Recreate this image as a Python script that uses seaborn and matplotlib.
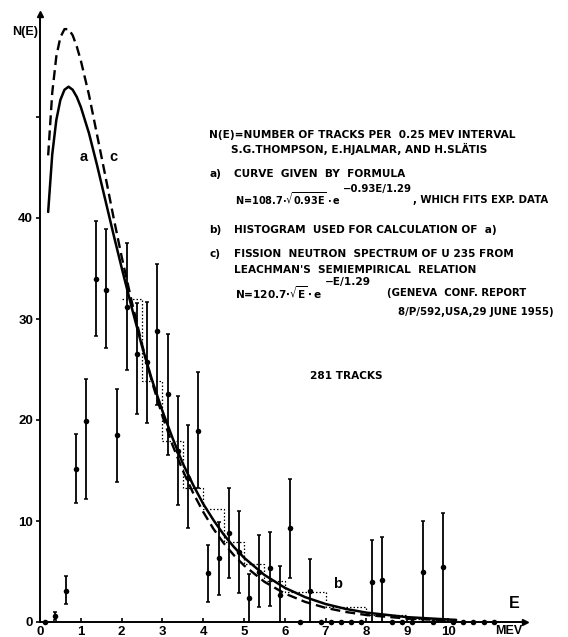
import matplotlib
matplotlib.use("Agg")
import matplotlib.pyplot as plt
import pandas as pd
import seaborn as sns

# measured track counts per 0.25 MeV interval (points with error bars)
energy = [0.125, 0.375, 0.625, 0.875, 1.125, 1.375, 1.625, 1.875, 2.125, 2.375,
          2.625, 2.875, 3.125, 3.375, 3.625, 3.875, 4.125, 4.375, 4.625, 4.875,
          5.125, 5.375, 5.625, 5.875, 6.125, 6.375, 6.625, 6.875, 7.125, 7.375,
          7.625, 7.875, 8.125, 8.375, 8.625, 8.875, 9.125, 9.375, 9.625, 9.875,
          10.125, 10.375, 10.625, 10.875, 11.125]
tracks = [0, 0.55, 3.1, 15.1, 19.9, 34.0, 32.9, 18.5, 31.2, 26.5,
          25.7, 28.8, 22.6, 16.9, 14.3, 18.9, 4.85, 6.3, 8.85, 6.9,
          2.4, 4.95, 5.3, 2.7, 9.35, 0, 3.1, 0, 0, 0,
          0, 0, 4.0, 4.2, 0, 0, 0, 5.0, 0, 5.4,
          0, 0, 0, 0, 0]
err_lo = [0, 0.15, 1.75, 11.8, 12.2, 28.3, 27.1, 13.9, 25.0, 20.6,
          19.7, 21.5, 16.5, 11.6, 9.3, 13.3, 1.95, 2.7, 4.35, 2.85,
          0, 1.45, 1.55, 0, 4.35, 0, 0, 0, 0, 0,
          0, 0, 0, 0, 0, 0, 0, 0, 0, 0,
          0, 0, 0, 0, 0]
err_hi = [0, 1.0, 4.6, 18.6, 24.1, 39.7, 38.9, 23.1, 37.5, 31.6,
          31.7, 35.4, 28.5, 22.4, 19.5, 24.8, 7.65, 9.95, 13.3, 10.95,
          4.8, 8.6, 8.95, 5.5, 14.2, 0, 6.2, 0, 0, 0,
          0, 0, 8.1, 8.45, 0, 0, 0, 10.0, 0, 10.8,
          0, 0, 0, 0, 0]

# b) histogram used for the fit
hist_edges = [2.0, 2.5, 3.0, 3.5, 4.0, 4.5, 5.0, 5.5, 6.0, 7.0, 8.0, 9.0, 10.0]
hist_levels = [32.0, 23.9, 17.9, 13.3, 11.2, 7.9, 5.7, 4.1, 2.95, 1.5, 0.7, 0.3]

# a) fitted curve and c) Leachman spectrum
curve_e = [0.2, 0.3, 0.4, 0.5, 0.6, 0.7, 0.8, 0.9, 1.0, 1.2, 1.4, 1.6, 1.8, 2.0,
           2.25, 2.5, 2.75, 3.0, 3.25, 3.5, 3.75, 4.0, 4.25, 4.5, 4.75, 5.0,
           5.5, 6.0, 6.5, 7.0, 7.5, 8.0, 9.0, 10.0, 10.2]
curve_a = [40.6, 46.3, 49.7, 51.7, 52.7, 53.0, 52.7, 52.0, 51.0, 48.4, 45.2,
           41.8, 38.4, 35.1, 31.1, 27.3, 23.9, 20.9, 18.2, 15.7, 13.6, 11.7,
           10.1, 8.67, 7.44, 6.37, 4.66, 3.39, 2.46, 1.78, 1.29, 0.93, 0.48,
           0.25, 0.21]
curve_c = [46.2, 52.4, 56.0, 57.9, 58.7, 58.7, 58.1, 57.0, 55.6, 52.2, 48.2,
           44.2, 40.1, 36.2, 31.7, 27.5, 23.7, 20.4, 17.5, 15.0, 12.8, 10.9,
           9.23, 7.82, 6.62, 5.60, 3.98, 2.82, 1.99, 1.40, 0.99, 0.69, 0.34,
           0.16, 0.14]

x_ticks = [0, 1, 2, 3, 4, 5, 6, 7, 8, 9, 10]
y_ticks = [0, 10, 20, 30, 40, 50]
y_labels = ["0", "10", "20", "30", "40", ""]

sns.set_style("ticks", {"axes.edgecolor": "black", "text.color": "black",
                        "xtick.color": "black", "ytick.color": "black",
                        "axes.labelcolor": "black"})
plt.rcParams["font.family"] = ["Liberation Sans", "DejaVu Sans"]
plt.rcParams["font.weight"] = "bold"
plt.rcParams["mathtext.fontset"] = "dejavusans"
plt.rcParams["mathtext.default"] = "bf"

W, H = 568, 637
fig = plt.figure(figsize=(W / 100, H / 100), dpi=100)
ax = fig.add_axes([40 / W, 15 / H, 485 / W, 608 / H])

pts = pd.DataFrame({"E": energy, "N": tracks, "lo": err_lo, "hi": err_hi})
bars = pts[pts["hi"] > pts["lo"]]
ax.errorbar(bars["E"], bars["N"], yerr=[bars["N"] - bars["lo"], bars["hi"] - bars["N"]],
            fmt="none", ecolor="black", elinewidth=1.3, capsize=1.6, capthick=1.1)
sns.scatterplot(data=pts, x="E", y="N", color="black", s=16, linewidth=0,
                clip_on=False, zorder=4, ax=ax)

ax.stairs(hist_levels, hist_edges, baseline=None, color="black",
          linestyle=(0, (1.2, 1.6)), linewidth=0.9)

curves = pd.DataFrame({"E": curve_e, "a": curve_a, "c": curve_c})
sns.lineplot(data=curves, x="E", y="a", color="black", linewidth=1.8, ax=ax)
sns.lineplot(data=curves, x="E", y="c", color="black", linewidth=1.7, ax=ax)
ax.lines[-1].set_dashes((4.2, 2.2))

ax.set_xlim(0, 485 / 40.8)
ax.set_ylim(0, 608 / 10.1)
ax.set_xlabel("")
ax.set_ylabel("")
sns.despine(ax=ax)
for s in ["left", "bottom"]:
    ax.spines[s].set_linewidth(1.4)
ax.plot([0], [1], marker="^", color="black", ms=5, transform=ax.transAxes, clip_on=False)
ax.plot([1], [0], marker=">", color="black", ms=5, transform=ax.transAxes, clip_on=False)

ax.set_xticks(x_ticks)
ax.set_xticklabels([str(t) for t in x_ticks])
ax.set_yticks(y_ticks)
ax.set_yticklabels(y_labels)
ax.tick_params(axis="x", direction="in", length=3, width=1.2, labelsize=9.5, pad=3)
ax.tick_params(axis="y", direction="out", length=3, width=1.2, labelsize=9.5, pad=2)

renderer = fig.canvas.get_renderer()


def put(x, y, s, size=7.6, family=("DejaVu Sans",), **kw):
    return fig.text(x / W, 1 - y / H, s, fontsize=size, family=list(family),
                    fontweight="bold", va="center", **kw)


def after(t, gap, y, s, size=7.6):
    # place text right after a previous one
    x = t.get_window_extent(renderer).x1 + gap
    return put(x, y, s, size=size)


put(12, 32, "N(E)", size=9, family=("Liberation Sans",))
put(80, 157, "a", size=10.5, family=("Liberation Sans",))
put(109, 157, "c", size=10.5, family=("Liberation Sans",))
put(333, 584, "b", size=10.5, family=("Liberation Sans",))
put(509, 603, "E", size=11.5, family=("Liberation Sans",))
put(495, 631, "MEV", size=9, family=("Liberation Sans",))

put(209, 135, "N(E)=NUMBER OF TRACKS PER  0.25 MEV INTERVAL")
put(231, 149, "S.G.THOMPSON, E.HJALMAR, AND H.SLÄTIS")
put(209, 174, "a)")
put(234, 174, "CURVE  GIVEN  BY  FORMULA")
fa = put(235, 199, r"N=108.7$\cdot\sqrt{0.93E}\cdot$e", size=7.0)
fa = after(fa, 2, 189, "\u22120.93E/1.29", size=7.3)
after(fa, 1, 200, ", WHICH FITS EXP. DATA", size=7.3)
put(209, 230, "b)")
put(234, 230, "HISTOGRAM  USED FOR CALCULATION OF  a)")
put(209, 254, "c)")
put(234, 254, "FISSION  NEUTRON  SPECTRUM OF U 235 FROM")
put(234, 270, "LEACHMAN'S  SEMIEMPIRICAL  RELATION")
fc = put(235, 293, r"N=120.7$\cdot\sqrt{E}\cdot$e", size=7.6)
after(fc, 2, 282, "\u2212E/1.29", size=7.6)
put(387, 293, "(GENEVA  CONF. REPORT", size=7.3)
put(398, 312, "8/P/592,USA,29 JUNE 1955)", size=7.3)
put(310, 376, "281 TRACKS")

fig.savefig("out.png", dpi=100)
